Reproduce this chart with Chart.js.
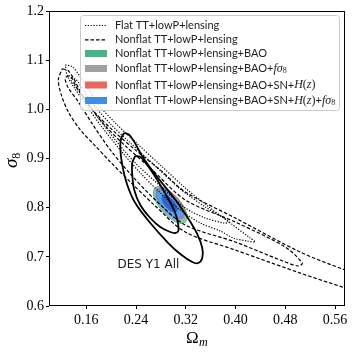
<!DOCTYPE html>
<html>
<head>
<meta charset="utf-8">
<script src="https://cdn.jsdelivr.net/npm/chart.js@4.4.1/dist/chart.umd.min.js"></script>
<style>
html, body { margin: 0; padding: 0; background: #fff; }
#wrap { width: 355px; height: 355px; position: relative; }
</style>
</head>
<body>
<div id="wrap"><canvas id="grafica"></canvas></div>
<script>
// ticks
const ticksOmega = [0.16, 0.24, 0.32, 0.40, 0.48, 0.56];
const ticksSigma = [0.6, 0.7, 0.8, 0.9, 1.0, 1.1, 1.2];

// Flat TT+lowP+lensing (dotted), 95% and 68%
const flat95Om = [0.1262, 0.1375, 0.1503, 0.1664, 0.1825, 0.2066, 0.2387, 0.2789, 0.3191, 0.3593, 0.3915, 0.4236, 0.4317,
                  0.4188, 0.3963, 0.3754, 0.3432, 0.3111, 0.2789, 0.2468, 0.2146, 0.1825, 0.1584, 0.1407, 0.1294];
const flat95S8 = [1.0906, 1.0866, 1.0662, 1.0356, 1.0051, 0.9725, 0.9338, 0.8869, 0.8401, 0.7994, 0.7688, 0.7383, 0.7302,
                  0.7322, 0.7383, 0.7526, 0.7688, 0.7953, 0.8300, 0.8707, 0.9175, 0.9684, 1.0112, 1.0438, 1.0682];
const flat68Om = [0.1359, 0.1439, 0.1551, 0.1744, 0.1986, 0.2307, 0.2709, 0.3111, 0.3513, 0.3786, 0.3899,
                  0.3818, 0.3513, 0.3191, 0.2789, 0.2387, 0.2066, 0.1793, 0.1584, 0.1439, 0.1359];
const flat68S8 = [1.0642, 1.0601, 1.0397, 1.0051, 0.9705, 0.9318, 0.8849, 0.8381, 0.8015, 0.7810, 0.7709,
                  0.7688, 0.7790, 0.7994, 0.8442, 0.8910, 0.9379, 0.9827, 1.0193, 1.0438, 1.0581];

// Nonflat TT+lowP+lensing (dashed), 95% and 68%
const nonflat95Om = [0.1214, 0.1310, 0.1407, 0.1535, 0.1744, 0.2018, 0.2387, 0.2789, 0.3191, 0.3995, 0.5040, 0.5764, 0.6327,
                     0.6327, 0.5764, 0.5040, 0.3995, 0.3191, 0.2709, 0.2307, 0.1986, 0.1744, 0.1503, 0.1310, 0.1198, 0.1150];
const nonflat95S8 = [1.0825, 1.0784, 1.0601, 1.0295, 0.9929, 0.9583, 0.9175, 0.8768, 0.8320, 0.7790, 0.7098, 0.6731, 0.6487,
                     0.6120, 0.6365, 0.6670, 0.7139, 0.7505, 0.8035, 0.8524, 0.8931, 0.9257, 0.9583, 0.9949, 1.0295, 1.0601];
const nonflat68Om = [0.1278, 0.1342, 0.1439, 0.1632, 0.1905, 0.2227, 0.2629, 0.3191, 0.3995, 0.4799, 0.5073,
                     0.5008, 0.4719, 0.3995, 0.3191, 0.2709, 0.2307, 0.1986, 0.1696, 0.1471, 0.1310, 0.1262];
const nonflat68S8 = [1.0662, 1.0682, 1.0458, 1.0092, 0.9664, 0.9257, 0.8808, 0.8157, 0.7709, 0.7200, 0.6874,
                     0.6813, 0.6935, 0.7302, 0.7648, 0.8157, 0.8687, 0.9175, 0.9705, 1.0153, 1.0438, 1.0601];

// DES Y1 All (solid), 95% and 68%
const des95Om = [0.2211, 0.2291, 0.2371, 0.2516, 0.2741, 0.2998, 0.3224, 0.3384, 0.3465, 0.3465, 0.3400, 0.3304,
                 0.3111, 0.2918, 0.2629, 0.2387, 0.2259, 0.2178, 0.2146, 0.2162];
const des95S8 = [0.9521, 0.9481, 0.9338, 0.9012, 0.8625, 0.8218, 0.7810, 0.7464, 0.7179, 0.6976, 0.6874, 0.6894,
                 0.7057, 0.7281, 0.7688, 0.8096, 0.8462, 0.8869, 0.9216, 0.9420];
const des68Om = [0.2387, 0.2468, 0.2580, 0.2741, 0.2902, 0.3031, 0.3079, 0.3079, 0.3031, 0.2950, 0.2789, 0.2629,
                 0.2468, 0.2371, 0.2339, 0.2339];
const des68S8 = [0.9053, 0.9033, 0.8869, 0.8564, 0.8218, 0.7892, 0.7648, 0.7526, 0.7485, 0.7505, 0.7607, 0.7790,
                 0.8055, 0.8361, 0.8666, 0.8910];

// filled regions (+BAO, +fs8, +SN+H(z), +SN+H(z)+fs8)
const baoOm = [0.3195, 0.3101, 0.2968, 0.2830, 0.2723, 0.2678, 0.2706, 0.2799, 0.2932, 0.3071, 0.3177, 0.3222];
const baoS8 = [0.7703, 0.7684, 0.7764, 0.7920, 0.8114, 0.8291, 0.8405, 0.8426, 0.8346, 0.8189, 0.7996, 0.7819];
const baoFs8Om = [0.3171, 0.3086, 0.2966, 0.2842, 0.2746, 0.2705, 0.2730, 0.2814, 0.2934, 0.3059, 0.3154, 0.3195];
const baoFs8S8 = [0.7748, 0.7731, 0.7803, 0.7943, 0.8118, 0.8277, 0.8380, 0.8399, 0.8327, 0.8186, 0.8012, 0.7853];
const snOm = [0.3161, 0.3082, 0.2970, 0.2854, 0.2764, 0.2727, 0.2750, 0.2828, 0.2940, 0.3057, 0.3146, 0.3183];
const snS8 = [0.7789, 0.7773, 0.7841, 0.7972, 0.8135, 0.8283, 0.8379, 0.8397, 0.8329, 0.8198, 0.8035, 0.7887];
const snFs8Om = [0.3141, 0.3066, 0.2959, 0.2849, 0.2763, 0.2727, 0.2750, 0.2824, 0.2931, 0.3042, 0.3127, 0.3163];
const snFs8S8 = [0.7793, 0.7778, 0.7842, 0.7967, 0.8122, 0.8264, 0.8355, 0.8372, 0.8308, 0.8182, 0.8028, 0.7886];
const snFs8In68Om = [0.3050, 0.3008, 0.2948, 0.2886, 0.2838, 0.2818, 0.2830, 0.2872, 0.2932, 0.2994, 0.3042, 0.3062];
const snFs8In68S8 = [0.7922, 0.7913, 0.7949, 0.8019, 0.8107, 0.8186, 0.8238, 0.8247, 0.8211, 0.8140, 0.8053, 0.7974];

const desLabel = { text: "DES Y1 All", om: 0.260, s8: 0.683 };

// legend text, split into runs: s = sans, i = math italic, r = math roman, b = subscript
const legendEntries = [
    [["Flat TT+lowP+lensing", "s"]],
    [["Nonflat TT+lowP+lensing", "s"]],
    [["Nonflat TT+lowP+lensing+BAO", "s"]],
    [["Nonflat TT+lowP+lensing+BAO+", "s"], ["f", "i"], ["σ", "i"], ["8", "b"]],
    [["Nonflat TT+lowP+lensing+BAO+SN+", "s"], ["H", "i"], ["(", "r"], ["z", "i"], [")", "r"]],
    [["Nonflat TT+lowP+lensing+BAO+SN+", "s"], ["H", "i"], ["(", "r"], ["z", "i"], [")", "r"], ["+", "s"], ["f", "i"], ["σ", "i"], ["8", "b"]]
];

// =========================
//   estilos
// =========================
const verde = "rgb(72,179,134)";
const gris = "rgb(160,160,160)";
const rojo = "rgb(232,104,93)";
const azul = "rgb(64,140,232)";

function puntos(om, s8) {
    const p = om.map((v, i) => ({ x: v, y: s8[i] }));
    p.push({ x: om[0], y: s8[0] });
    return p;
}

function linea(om, s8, dash, width) {
    return {
        data: puntos(om, s8),
        showLine: true,
        fill: false,
        borderColor: "#000",
        borderWidth: width,
        borderDash: dash,
        pointRadius: 0,
        tension: 0.3,
        order: 0
    };
}

function region(om, s8, fillColor, edge, order) {
    return {
        data: puntos(om, s8),
        showLine: true,
        fill: "shape",
        backgroundColor: fillColor,
        borderColor: edge,
        borderWidth: 1,
        pointRadius: 0,
        tension: 0.35,
        order: order
    };
}

const datasets = [
    linea(flat95Om, flat95S8, [1.2, 1.6], 1.2),
    linea(flat68Om, flat68S8, [1.2, 1.6], 1.2),
    linea(nonflat95Om, nonflat95S8, [3.5, 2], 1.2),
    linea(nonflat68Om, nonflat68S8, [3.5, 2], 1.2),
    linea(des95Om, des95S8, [], 1.8),
    linea(des68Om, des68S8, [], 1.8),
    region(snFs8In68Om, snFs8In68S8, "rgb(45,100,205)", "rgb(45,100,205)", 1),
    region(snFs8Om, snFs8S8, "rgb(95,155,235)", "rgb(64,140,232)", 2),
    region(snOm, snS8, "rgb(238,140,130)", rojo, 3),
    region(baoFs8Om, baoFs8S8, "rgb(190,190,190)", gris, 4),
    region(baoOm, baoS8, "rgb(150,210,185)", verde, 5)
];

const legendStyles = [
    { kind: "line", dash: [1.2, 1.6] },
    { kind: "line", dash: [3.5, 2] },
    { kind: "patch", color: verde },
    { kind: "patch", color: gris },
    { kind: "patch", color: rojo },
    { kind: "patch", color: azul }
];
const legendRowY = [25, 39.3, 53.5, 68.5, 85, 100.5];

const fuentes = {
    s: { font: '11px "Lato"', dy: 0 },
    i: { font: 'italic 12px "Liberation Serif"', dy: 0 },
    r: { font: '12px "Liberation Serif"', dy: 0 },
    b: { font: '8px "Liberation Serif"', dy: 2.5 }
};

function dibujarRuns(ctx, runs, x, y) {
    runs.forEach(([txt, k]) => {
        ctx.font = fuentes[k].font;
        ctx.fillText(txt, x, y + fuentes[k].dy);
        x += ctx.measureText(txt).width;
    });
}

const extras = {
    id: "extras",
    afterDatasetsDraw(chart) {
        const ctx = chart.ctx;
        const sx = chart.scales.x, sy = chart.scales.y;
        ctx.save();

        // DES label
        ctx.fillStyle = "#222";
        ctx.font = '12px "DejaVu Sans"';
        ctx.textAlign = "center";
        ctx.textBaseline = "middle";
        ctx.fillText(desLabel.text, sx.getPixelForValue(desLabel.om), sy.getPixelForValue(desLabel.s8));

        // legend box
        ctx.beginPath();
        ctx.roundRect(80.5, 15.5, 259, 95, 3);
        ctx.fillStyle = "rgba(255,255,255,0.8)";
        ctx.fill();
        ctx.strokeStyle = "#cccccc";
        ctx.lineWidth = 1;
        ctx.stroke();

        ctx.textAlign = "left";
        ctx.textBaseline = "middle";
        legendEntries.forEach((runs, i) => {
            const st = legendStyles[i];
            const y = legendRowY[i];
            if (st.kind === "line") {
                ctx.beginPath();
                ctx.setLineDash(st.dash);
                ctx.strokeStyle = "#000";
                ctx.lineWidth = 1.2;
                ctx.moveTo(85, y + 0.5);
                ctx.lineTo(107, y + 0.5);
                ctx.stroke();
                ctx.setLineDash([]);
            } else {
                ctx.fillStyle = st.color;
                ctx.fillRect(85, y - 3.5, 22, 7);
            }
            ctx.fillStyle = "#222";
            dibujarRuns(ctx, runs, 115, y);
        });
        ctx.restore();
    },
    afterDraw(chart) {
        const ctx = chart.ctx, a = chart.chartArea;
        ctx.save();
        ctx.strokeStyle = "#000";
        ctx.lineWidth = 1;
        ctx.strokeRect(a.left + 0.5, a.top + 0.5, a.right - a.left - 1, a.bottom - a.top - 1);

        // axis titles
        ctx.fillStyle = "#000";
        ctx.textBaseline = "alphabetic";
        ctx.textAlign = "left";
        ctx.font = '17px "Liberation Serif"';
        ctx.fillText("Ω", 186, 343);
        ctx.font = 'italic 12px "Liberation Serif"';
        ctx.fillText("m", 199, 346);

        ctx.translate(17, 168);
        ctx.rotate(-Math.PI / 2);
        ctx.font = 'italic 19px "Liberation Serif"';
        ctx.fillText("σ", 0, 0);
        const w = ctx.measureText("σ").width;
        ctx.font = '12px "Liberation Serif"';
        ctx.fillText("8", w, 3);
        ctx.restore();
    }
};

const ctxGrafica = document.getElementById("grafica");

new Chart(ctxGrafica, {
    type: "scatter",
    data: { datasets: datasets },
    options: {
        responsive: true,
        maintainAspectRatio: false,
        animation: false,
        layout: { padding: { left: 9, right: 10, top: 11, bottom: 0 } },
        plugins: { legend: { display: false }, tooltip: { enabled: false } },
        scales: {
            x: {
                type: "linear",
                min: 0.10,
                max: 0.576,
                afterBuildTicks: s => { s.ticks = ticksOmega.map(v => ({ value: v })); },
                afterFit: s => { s.height = 49; },
                border: { display: false },
                grid: { drawOnChartArea: false, tickLength: 3, color: "#000" },
                ticks: {
                    color: "#000",
                    padding: 3,
                    maxRotation: 0,
                    font: { family: "Liberation Serif", size: 14 },
                    callback: v => Number(v).toFixed(2)
                }
            },
            y: {
                type: "linear",
                min: 0.6,
                max: 1.2,
                afterBuildTicks: s => { s.ticks = ticksSigma.map(v => ({ value: v })); },
                afterFit: s => { s.width = 40; },
                border: { display: false },
                grid: { drawOnChartArea: false, tickLength: 3, color: "#000" },
                ticks: {
                    color: "#000",
                    padding: 2,
                    font: { family: "Liberation Serif", size: 14 },
                    callback: v => Number(v).toFixed(1)
                }
            }
        }
    },
    plugins: [extras]
});
</script>
</body>
</html>
